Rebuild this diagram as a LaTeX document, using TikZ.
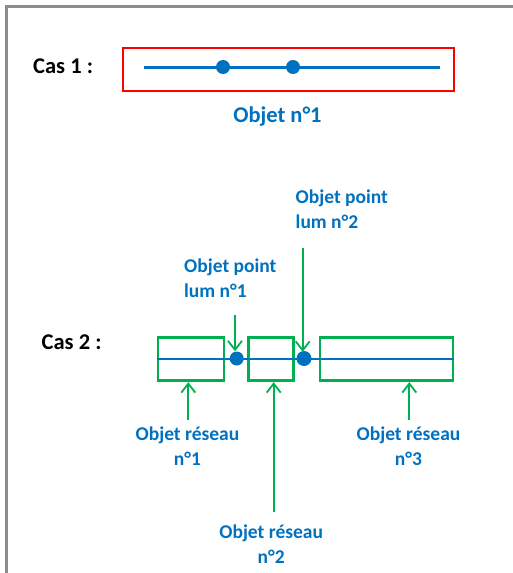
\documentclass[tikz,border=0pt]{standalone}
\usepackage{fontspec}
\setmainfont{Carlito}
\usetikzlibrary{arrows.meta}
\definecolor{objblue}{HTML}{0070C0}
\definecolor{objgreen}{HTML}{00B050}
\definecolor{framegray}{HTML}{8C8C8C}
\begin{document}
\begin{tikzpicture}[x=1pt,y=-1pt,
  lbl/.style={font=\fontsize{19.5}{25}\selectfont\bfseries, inner sep=0pt},
  biglbl/.style={font=\fontsize{22.5}{27}\selectfont\bfseries, inner sep=0pt},
  bluelbl/.style={lbl, text=objblue, align=center},
  casetxt/.style={biglbl, text=black},
  wire/.style={draw=objblue, line width=2.6pt},
  dot/.style={circle, fill=objblue, minimum size=14pt, inner sep=0pt},
  netbox/.style={draw=objgreen, line width=2.8pt},
  pointer/.style={draw=objgreen, line width=2pt, -{Straight Barb[length=9pt,width=14pt,line width=1.8pt]}}
]
\useasboundingbox (0,0) rectangle (513,573);
% outer frame (top and left edges)
\draw[framegray, line width=2.5pt] (6.5,573) -- (6.5,6.5) -- (513,6.5);

% ---- case 1 ----
\node[casetxt, anchor=west] (cas1) at (33,66) {Cas 1 :};
\draw[red, line width=2.8pt] (123,48) rectangle (454,91);
\coordinate (l1a) at (144,67.5);
\coordinate (l1b) at (440,67.5);
\draw[wire] (l1a) -- (l1b);
\node[dot] (p1) at (223,67) {};
\node[dot] (p2) at (293,67) {};
\node[biglbl, text=objblue] (obj1) at (277.5,117) {Objet n°1};

% ---- case 2 ----
\node[casetxt, anchor=west] (cas2) at (41.5,342) {Cas 2 :};
\node[netbox, minimum width=66pt, minimum height=43.5pt, inner sep=0pt] (r1) at (191,359) {};
\node[netbox, minimum width=45.5pt, minimum height=43.5pt, inner sep=0pt] (r2) at (271,359) {};
\node[netbox, minimum width=133pt, minimum height=43.5pt, inner sep=0pt] (r3) at (386.5,359) {};
\coordinate (l2a) at (156.5,359);
\coordinate (l2b) at (453.5,359);
\draw[wire] (l2a) -- (l2b);
\node[dot] (q1) at (236.7,358.5) {};
\node[dot, minimum size=15pt] (q2) at (304,358.5) {};

% point labels and their pointers
\node[bluelbl, align=left, anchor=north west] (lum1) at (184,259) {Objet point\\lum n°1};
\node[bluelbl, align=left, anchor=north west] (lum2) at (295.5,189.5) {Objet point\\lum n°2};
\coordinate (t1) at (235,315);
\coordinate (t2) at (302.7,248);
\draw[pointer] (t1) -- (q1.north -| t1);
\draw[pointer] (t2) -- ([yshift=-1pt]q2.north -| t2);

% network labels and their pointers
\coordinate (s1) at (188.3,419.5);
\coordinate (s2) at (273.7,512);
\coordinate (s3) at (409.3,419.5);
\draw[pointer] (s1) -- (r1.south -| s1);
\draw[pointer] (s2) -- (r2.south -| s2);
\draw[pointer] (s3) -- (r3.south -| s3);
\node[bluelbl] (net1) at (187.5,446) {Objet réseau\\n°1};
\node[bluelbl] (net2) at (271.2,544) {Objet réseau\\n°2};
\node[bluelbl] (net3) at (408.5,446) {Objet réseau\\n°3};
\end{tikzpicture}
\end{document}
